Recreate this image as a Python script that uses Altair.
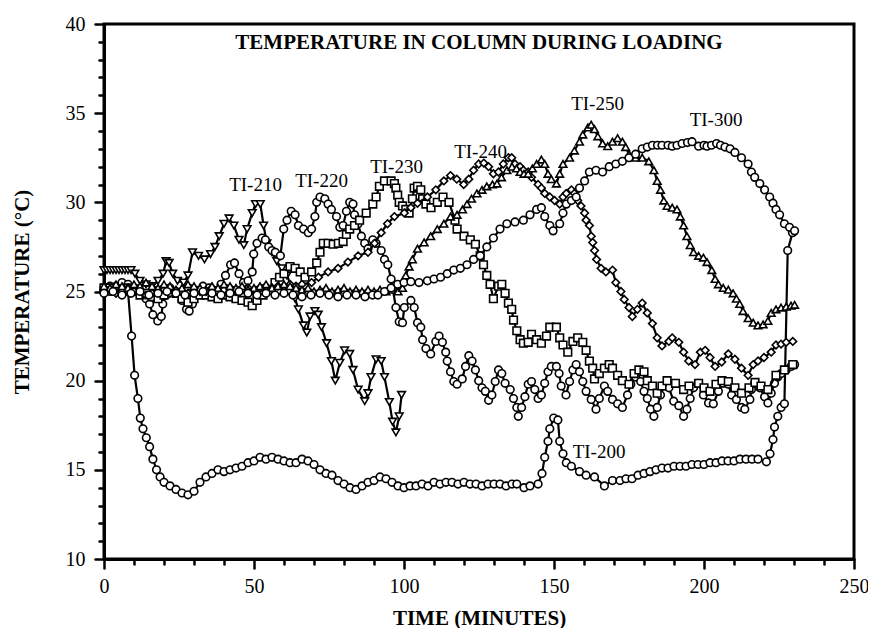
import altair as alt
import pandas as pd

series_names = ["TI-200", "TI-210", "TI-220", "TI-230", "TI-240", "TI-250", "TI-300"]
series_shapes = ["circle", "triangle-down", "circle", "square", "diamond", "triangle-up", "circle"]

ti200_t = [0, 2, 4, 6, 8, 9.2, 10.2, 11.3, 12.1, 13, 14.1, 15.2, 16.3, 17.5, 18.7, 20, 22, 24, 26, 28, 30, 32, 34, 36, 38, 40,
           42, 44, 46, 48, 50, 52, 54, 56, 58, 60, 62, 64, 66, 68, 70, 72, 74, 76, 78, 80, 82, 84, 86, 88, 90, 92, 94, 96, 98,
           100, 102, 104, 106, 108, 110, 112, 114, 116, 118, 120, 122, 124, 126, 128, 130, 132, 134, 136, 137.6, 140, 142,
           144.7, 146, 146.9, 148, 148.6, 149.9, 151.3, 151.9, 153, 154.1, 155.8, 158.5, 160.7, 163.5, 166.8, 169.5, 172,
           174, 176, 178, 180, 182, 184, 186, 188, 190, 192, 194, 196, 198, 200, 202, 204, 206, 208, 210, 212, 214, 216, 218,
           220.8, 222, 223, 223.5, 224.6, 225.7, 226.8, 227.9, 229.5]
ti200_v = [25.0, 25.3, 25.0, 25.2, 25.0, 22.5, 20.3, 19.0, 17.9, 17.3, 16.8, 16.3, 15.6, 15.0, 14.6, 14.3, 14.1, 13.9, 13.7,
           13.6, 13.8, 14.3, 14.6, 14.8, 15.0, 14.9, 15.0, 15.1, 15.2, 15.4, 15.5, 15.7, 15.6, 15.7, 15.6, 15.5, 15.4, 15.4,
           15.6, 15.5, 15.3, 15.0, 14.8, 14.7, 14.4, 14.2, 14.0, 13.9, 14.1, 14.3, 14.4, 14.6, 14.5, 14.3, 14.1, 14.0, 14.1,
           14.1, 14.2, 14.1, 14.3, 14.2, 14.3, 14.3, 14.2, 14.3, 14.2, 14.2, 14.1, 14.2, 14.2, 14.2, 14.1, 14.2, 14.2, 14.0,
           14.1, 14.2, 14.8, 15.7, 16.6, 17.3, 17.9, 17.8, 16.6, 15.9, 15.4, 15.2, 14.9, 14.7, 14.6, 14.1, 14.4, 14.4, 14.5,
           14.5, 14.7, 14.8, 14.9, 15.0, 15.1, 15.1, 15.2, 15.2, 15.2, 15.3, 15.3, 15.3, 15.4, 15.4, 15.5, 15.5, 15.5, 15.6,
           15.6, 15.6, 15.6, 15.45, 15.9, 16.7, 17.4, 18.0, 18.5, 18.7, 27.3, 28.3]

ti210_t = [0, 1, 2, 3, 4, 5, 6, 7, 8, 9, 10.3, 12, 14, 16, 18, 19.7, 20.7, 21.7, 22.9, 24.5, 26.5, 28, 29.5, 31.5, 33.5, 35.5,
           37, 38.4, 40, 41.7, 43.3, 45, 46.6, 47.7, 49.4, 50.5, 52.1, 53.2, 54.3, 56, 57.6, 59.3, 61, 62.6, 63.7, 64.8, 66.5,
           67.6, 68.7, 70.3, 71.4, 72.5, 74.2, 75.8, 77.1, 78.6, 80.2, 81.9, 83, 84.7, 86.9, 88, 89, 90.7, 92.4, 93.5, 95.1,
           96.2, 97.3, 98.4, 99.2]
ti210_v = [26.2, 26.2, 26.2, 26.2, 26.2, 26.2, 26.2, 26.2, 26.2, 26.2, 26.0, 25.6, 25.4, 25.3, 25.6, 26.0, 26.7, 26.6, 26.0,
           25.6, 25.5, 25.9, 27.2, 27.0, 26.8, 27.1, 27.5, 28.1, 28.8, 29.1, 28.7, 27.9, 27.6, 28.5, 29.4, 29.9, 29.9, 28.7,
           27.7, 27.2, 26.7, 26.3, 25.9, 25.2, 24.6, 24.0, 23.1, 22.7, 23.6, 23.9, 23.7, 23.0, 22.1, 21.1, 20.0, 21.0, 21.7,
           21.5, 20.6, 19.5, 18.85, 19.3, 20.2, 21.2, 21.1, 20.2, 18.8, 17.7, 17.1, 18.0, 19.2]

ti220_t = [0, 2, 4, 6, 8, 10, 12, 14, 15.2, 16.3, 17.9, 19.1, 19.6, 20.7, 22, 24, 26, 27.5, 28.4, 29.5, 31, 33, 35, 37, 39,
           40.5, 42.2, 43.5, 45, 46.5, 48, 49.4, 49.9, 51, 52.7, 53.8, 54.9, 56, 57.1, 58.8, 59.9, 61, 62.4, 63.7, 64.8, 66.5,
           68.1, 69.2, 70.3, 70.9, 72, 73.6, 74.7, 75.8, 77.5, 78.6, 79.7, 80.8, 81.9, 83, 83.5, 84.7, 85.8, 86.9, 88, 89.6,
           90.7, 92.4, 93.5, 94.6, 95.7, 96.2, 97.3, 98.4, 99.5, 100.1, 102.3, 103.4, 104.5, 105.6, 106.2, 107.3, 108.9,
           110.6, 111.7, 112.8, 113.9, 114.4, 115.5, 116.6, 117.7, 119.4, 120.5, 121.6, 122.7, 123.8, 124.9, 126, 127.1,
           128.2, 129.3, 130.4, 131.5, 132.6, 133.7, 135.4, 136.5, 137.6, 138.1, 139.2, 140.3, 141.4, 142.5, 143.6, 144.7,
           145.8, 146.9, 148, 149.1, 150.8, 151.7, 152.4, 154, 155.2, 156.3, 157.4, 158.5, 159.6, 160.7, 162.4, 164, 165.1,
           166.8, 167.9, 169.5, 171.2, 172.8, 174.5, 175.6, 177.2, 178.9, 180, 181.1, 182.2, 183.3, 184.4, 185.5, 186.6,
           188.3, 189.9, 191.6, 193.2, 194.3, 195.4, 196.5, 198.2, 199.8, 201.5, 203.1, 204.8, 206.4, 208.1, 209.2, 210.8,
           212.5, 213.6, 215.3, 215.8, 216.9, 218.6, 220.2, 221.3, 222.4, 223.5, 224.6, 225.7, 227.4, 229, 230.2]
ti220_v = [25.2, 25.0, 25.3, 25.5, 25.4, 25.2, 25.0, 24.6, 24.3, 23.7, 23.35, 23.6, 24.3, 24.8, 25.2, 25.0, 24.5, 24.0, 23.9,
           24.3, 24.9, 25.3, 25.2, 25.0, 25.4, 25.9, 26.5, 26.6, 26.0, 25.5, 25.6, 26.1, 27.1, 27.7, 28.0, 27.9, 27.5, 27.3,
           27.2, 27.0, 28.5, 29.0, 29.5, 29.3, 28.7, 28.5, 28.3, 28.5, 29.2, 30.0, 30.3, 30.2, 29.9, 29.6, 29.2, 28.6, 28.7,
           29.5, 30.0, 29.9, 29.3, 28.8, 28.1, 27.7, 27.4, 27.9, 27.7, 27.3, 26.8, 26.5, 25.7, 25.2, 24.1, 23.3, 23.25, 24.1,
           24.5, 24.1, 23.25, 23.0, 22.3, 21.8, 21.5, 22.2, 22.5, 22.15, 21.6, 21.1, 20.5, 19.95, 19.8, 20.1, 20.8, 21.4,
           21.1, 20.6, 20.0, 19.6, 19.4, 18.9, 19.2, 19.95, 20.6, 20.4, 19.85, 19.5, 19.0, 18.5, 18.0, 18.5, 19.1, 19.8,
           19.95, 19.5, 19.0, 19.2, 19.85, 20.5, 20.8, 20.8, 20.4, 19.7, 19.2, 19.95, 20.6, 20.9, 20.5, 19.95, 19.4, 18.95,
           18.4, 19.0, 19.7, 19.4, 18.95, 18.7, 18.5, 19.2, 19.8, 20.2, 19.95, 19.4, 19.0, 18.4, 18.0, 18.5, 19.2, 19.7,
           19.6, 18.85, 18.6, 18.0, 18.4, 19.0, 19.6, 19.85, 19.2, 18.75, 18.7, 19.4, 19.85, 19.8, 19.2, 18.95, 18.5, 18.4,
           18.95, 19.5, 19.85, 19.6, 19.1, 18.75, 19.3, 19.85, 20.2, 20.4, 20.6, 20.8, 20.9]

ti230_t = [0, 2, 4, 6, 8, 10, 12, 14, 16, 18, 20, 22, 24, 26, 28, 30, 32, 34, 36, 38, 40, 42, 44, 46, 48, 49.4, 51, 53, 55,
           57, 58.5, 60, 62, 63.7, 65.4, 67, 69.2, 70.9, 72, 73.1, 74.7, 76.4, 78.1, 79.7, 80.8, 81.9, 83.5, 85.2, 87.4, 89.6,
           90.7, 91.8, 93.5, 95.7, 96.8, 97.3, 97.9, 98.4, 99.5, 100.6, 101.7, 102.8, 103.4, 104.5, 105.6, 106.2, 107.3, 109,
           111.1, 113, 115, 117, 117.7, 120, 122.1, 123.8, 125.4, 126.5, 127.6, 128.7, 129.8, 131.5, 132.6, 133.7, 134.8,
           135.9, 136.5, 137.6, 138.7, 139.8, 141.4, 142.5, 144.2, 145.8, 147.5, 148.6, 150.8, 151.9, 153, 154.6, 156.3,
           157.9, 159.6, 160.7, 161.8, 162.9, 163.5, 165.1, 166.8, 168.4, 169.5, 171.2, 172.8, 175, 176.7, 178.3, 180, 181.1,
           182.8, 184.4, 186, 187.7, 190.5, 193.2, 195, 198.2, 200, 202, 204, 206, 208.1, 210.3, 212.5, 215, 217, 219, 221.3,
           224, 226.8, 229.6]
ti230_v = [25.2, 25.2, 25.0, 25.1, 25.2, 25.0, 24.8, 24.9, 24.7, 24.6, 24.8, 25.0, 24.9, 24.6, 24.4, 24.6, 24.8, 24.8, 24.7,
           24.6, 24.8, 24.7, 24.6, 24.5, 24.4, 24.2, 24.5, 24.8, 25.1, 25.5, 25.8, 26.0, 26.4, 26.3, 26.1, 25.8, 26.1, 26.6,
           27.2, 27.7, 27.7, 27.65, 27.7, 27.8, 28.2, 28.5, 28.7, 29.0, 29.4, 29.9, 30.3, 30.9, 31.2, 31.2, 31.05, 30.8,
           30.4, 30.0, 29.8, 29.6, 29.4, 30.2, 30.8, 30.9, 30.7, 30.2, 29.9, 29.7, 30.0, 30.3, 30.0, 29.0, 28.5, 28.1, 27.9,
           27.65, 27.0, 26.5, 25.9, 25.4, 24.6, 25.3, 25.4, 24.9, 24.35, 24.0, 23.4, 22.8, 22.3, 22.1, 22.15, 22.6, 22.3,
           22.1, 22.5, 23.0, 23.0, 22.4, 22.0, 21.6, 22.2, 22.4, 22.15, 21.7, 21.1, 20.7, 20.1, 20.4, 20.7, 20.9, 20.7, 20.3,
           20.0, 19.8, 20.4, 20.6, 20.5, 20.0, 19.7, 19.3, 19.7, 20.0, 19.85, 19.5, 19.7, 19.85, 19.6, 19.4, 19.8, 20.0,
           19.95, 19.6, 19.3, 19.6, 19.9, 19.7, 19.5, 20.3, 20.6, 20.9]

ti240_t = [0, 2, 4, 6, 8, 10, 12, 14, 16, 18, 20, 22, 24, 26, 28, 30, 32, 34, 36, 38, 40, 42, 44, 46, 48, 50, 52, 54, 56, 58,
           60, 62, 64, 66, 69.2, 71.5, 74.7, 78, 81.3, 84.7, 88, 90.2, 92.4, 94.5, 96.8, 100.1, 102.3, 104.5, 107.8, 110.6,
           113.3, 115.5, 117.6, 119.9, 121.6, 123.2, 124.9, 126.6, 128.2, 129.8, 131.5, 133.1, 134.8, 135.9, 137, 138.7,
           139.8, 141.4, 142.5, 144.7, 145.8, 146.9, 148.6, 150.2, 151.9, 153, 154.1, 155.8, 156.8, 157.9, 159, 160.2, 160.7,
           161.8, 162.4, 162.9, 163.5, 164.2, 165.7, 167.3, 169.5, 170.6, 172.3, 173.4, 175, 176.1, 177.8, 179.4, 181.1,
           182.8, 184.4, 186, 188.3, 189.4, 191.6, 193.2, 194.9, 197, 198.8, 200.4, 202, 203.7, 205.9, 208.1, 210.3, 212.5,
           214.7, 216.4, 218, 220, 222.4, 224, 225.7, 227.4, 229.6]
ti240_v = [25.0, 25.1, 24.9, 25.0, 25.2, 25.0, 25.1, 24.8, 24.9, 25.0, 25.1, 24.9, 25.0, 25.0, 24.9, 25.1, 25.0, 25.0, 25.2,
           25.0, 25.1, 25.2, 25.0, 25.1, 25.2, 25.1, 25.2, 25.3, 25.2, 25.3, 25.3, 25.4, 25.3, 25.4, 25.5, 25.8, 26.1, 26.3,
           26.65, 27.0, 27.2, 27.7, 28.3, 28.8, 29.2, 29.4, 29.7, 29.95, 30.3, 30.7, 31.2, 31.5, 31.3, 31.0, 31.3, 31.8,
           32.15, 32.2, 32.0, 31.6, 31.7, 32.15, 32.5, 32.5, 32.15, 32.0, 31.8, 31.7, 31.4, 31.0, 30.8, 30.5, 30.3, 30.1,
           29.9, 30.3, 30.5, 30.7, 30.5, 30.1, 29.8, 29.4, 29.0, 28.7, 28.1, 27.75, 27.3, 26.8, 26.3, 26.1, 26.2, 25.5, 25.0,
           24.55, 24.1, 23.6, 24.0, 24.35, 23.8, 23.2, 22.4, 21.95, 22.2, 22.4, 22.15, 21.6, 21.1, 20.9, 21.6, 21.7, 21.3,
           20.8, 21.05, 21.5, 21.2, 20.7, 20.3, 20.9, 21.1, 21.3, 21.6, 22.0, 22.05, 22.15, 22.2]

ti250_t = [0, 2, 4, 6, 8, 10, 12, 14, 16, 18, 20, 22, 24, 26, 28, 30, 32, 34, 36, 38, 40, 42, 44, 46, 48, 50, 52, 54, 56, 58,
           60, 62, 64, 66, 68, 70, 72, 74, 76, 78, 80, 82, 84, 86, 88, 90, 92, 94, 96, 98, 99.5, 100.6, 101.7, 102.8, 104.5,
           106.7, 108.9, 111.1, 113.3, 115.5, 117.7, 119.5, 121, 122.5, 124.3, 126, 127.6, 129.5, 131, 132.5, 134.3, 136,
           137.5, 138.7, 140, 141.4, 142.8, 144.2, 145.8, 146.9, 148, 149.1, 150.8, 151.9, 153, 155.2, 156.8, 158.5, 159.6,
           161.3, 162.4, 163.5, 164.6, 166.2, 167.9, 169.5, 171.2, 172.8, 173.9, 175, 177.2, 179.4, 181.6, 183.3, 184.4,
           185.5, 186.6, 187.7, 189.4, 191, 192.1, 193.2, 194.3, 195.4, 196.5, 198.2, 199.8, 201, 202.6, 203.7, 204.8, 206.4,
           208.1, 209.7, 210.8, 211.9, 213, 214.7, 216.4, 218, 219.7, 221.3, 222.4, 224, 225.7, 227.4, 229, 230.2]
ti250_v = [25.3, 25.2, 25.4, 25.3, 25.2, 25.4, 25.3, 25.5, 25.3, 25.2, 25.4, 25.3, 25.1, 25.2, 25.4, 25.3, 25.2, 25.1, 25.3,
           25.2, 25.4, 25.3, 25.2, 25.3, 25.1, 25.2, 25.3, 25.4, 25.2, 25.3, 25.4, 25.3, 25.2, 25.1, 25.2, 25.0, 25.1, 25.2,
           25.0, 25.1, 25.2, 25.0, 25.1, 25.0, 25.1, 25.0, 25.1, 25.0, 25.1, 25.0, 25.2, 25.9, 26.4, 26.8, 27.4, 27.75, 28.1,
           28.5, 28.8, 29.2, 29.3, 29.6, 29.9, 30.2, 30.5, 30.7, 30.9, 31.0, 31.05, 31.4, 31.8, 32.0, 31.9, 31.7, 31.6, 31.6,
           31.9, 32.15, 32.4, 32.15, 31.6, 31.3, 31.05, 31.6, 32.15, 32.5, 32.9, 33.4, 33.8, 34.2, 34.35, 34.1, 33.7, 33.3,
           33.15, 33.4, 33.6, 33.4, 33.1, 32.7, 32.5, 32.5, 32.3, 31.8, 31.2, 30.7, 30.1, 29.8, 29.7, 29.6, 29.2, 28.7, 28.1,
           27.6, 27.2, 27.0, 26.9, 26.65, 26.2, 25.7, 25.4, 25.2, 25.1, 24.9, 24.6, 24.3, 23.9, 23.5, 23.25, 23.1, 23.15,
           23.35, 23.8, 24.0, 24.1, 24.15, 24.2, 24.25]

ti300_t = [0, 3, 6, 9, 12, 15, 18, 21, 24, 27, 30, 33, 36, 39, 42, 45, 48, 51, 54, 57, 60, 63, 66, 69, 72, 75, 78, 81, 84, 87,
           89.5, 91.3, 93.5, 95.7, 97.9, 100, 102.3, 105, 107.8, 110, 112.2, 114.4, 116.6, 118.8, 121, 123.2, 125.4, 127.6,
           129.8, 132, 134.3, 137, 139.8, 142, 144.2, 145.8, 146.9, 148.6, 149.7, 151.9, 153, 154.1, 155.8, 157.4, 158.5,
           160.2, 161.8, 164, 166.2, 168.4, 170.6, 172.8, 175, 177.2, 179.4, 181.1, 182.8, 184.5, 186, 188, 189.4, 191, 192.7,
           194.5, 196, 198.2, 200, 201, 202.5, 204.2, 205.5, 207, 208.7, 210.3, 212.5, 214.7, 215.8, 216.9, 218.6, 220.2,
           221.9, 223, 224, 225.2, 226.8, 228.5, 230.2]
ti300_v = [24.9, 25.0, 24.8, 24.9, 25.0, 24.8, 24.9, 25.0, 24.9, 24.8, 24.9, 25.0, 24.9, 24.8, 24.9, 25.0, 24.9, 24.8, 24.9,
           24.8, 24.9, 24.8, 24.7, 24.8, 24.9, 24.8, 24.7, 24.8, 24.8, 24.7, 24.8, 24.8, 25.0, 25.2, 25.4, 25.5, 25.55,
           25.5, 25.6, 25.7, 25.8, 26.0, 26.2, 26.3, 26.5, 26.8, 27.0, 27.5, 28.0, 28.5, 28.8, 28.9, 29.0, 29.3, 29.6, 29.7,
           29.2, 28.7, 28.4, 28.8, 29.4, 29.9, 30.1, 30.3, 30.8, 31.2, 31.7, 31.8, 31.7, 32.0, 32.15, 32.3, 32.5, 32.7, 33.0,
           33.1, 33.2, 33.2, 33.2, 33.2, 33.15, 33.2, 33.3, 33.35, 33.4, 33.15, 33.2, 33.15, 33.2, 33.3, 33.2, 33.1, 33.0,
           32.8, 32.5, 32.15, 31.7, 31.4, 31.05, 30.7, 30.3, 29.95, 29.6, 29.3, 28.8, 28.6, 28.4]

label_text = ["TI-200", "TI-210", "TI-220", "TI-230", "TI-240", "TI-250", "TI-300"]
label_time = [165, 50.5, 72.5, 97.5, 125.5, 164.5, 204]
label_temp = [16.0, 31.0, 31.2, 32.0, 32.8, 35.5, 34.6]

chart_title = "TEMPERATURE IN COLUMN DURING LOADING"
title_time = [125]
title_temp = [38.95]

series_t = [ti200_t, ti210_t, ti220_t, ti230_t, ti240_t, ti250_t, ti300_t]
series_v = [ti200_v, ti210_v, ti220_v, ti230_v, ti240_v, ti250_v, ti300_v]

frames = []
for name, ts, vs in zip(series_names, series_t, series_v):
    frames.append(pd.DataFrame({"series": name, "time": ts, "temp": vs}))
data = pd.concat(frames, ignore_index=True)

FONT = "Liberation Serif"
PLOT_W = 750
PLOT_H = 535

x_enc = alt.X(
    "time:Q",
    scale=alt.Scale(domain=[0, 250], nice=False),
    axis=alt.Axis(
        values=list(range(0, 251, 10)),
        labelExpr="datum.value % 50 === 0 ? datum.label : ''",
        labelFlush=False,
        labelOverlap=False,
        tickSize={"condition": {"test": "datum.value % 50 === 0", "value": 9}, "value": 5},
        labelPadding=8,
        title="TIME (MINUTES)",
        titleBaseline="alphabetic",
        titleY=65,
    ),
)
y_enc = alt.Y(
    "temp:Q",
    scale=alt.Scale(domain=[10, 40], nice=False),
    axis=alt.Axis(
        values=list(range(10, 41)),
        labelExpr="datum.value % 5 === 0 ? datum.label : ''",
        labelFlush=False,
        labelOverlap=False,
        tickSize={"condition": {"test": "datum.value % 5 === 0", "value": 9}, "value": 5},
        labelPadding=10,
        title="TEMPERATURE (°C)",
        titleX=-72,
    ),
)

layers = []
for name, shp in zip(series_names, series_shapes):
    sub = alt.Chart(data).transform_filter(alt.datum.series == name)
    layers.append(
        sub.mark_line(color="black", strokeWidth=2.2).encode(x=x_enc, y=y_enc, order="time:Q")
    )
    layers.append(
        sub.mark_point(shape=shp, filled=True, fill="white", stroke="black", strokeWidth=1.6, size=58, opacity=1)
        .encode(x=x_enc, y=y_enc)
    )

labels_df = pd.DataFrame({"text": label_text, "time": label_time, "temp": label_temp})
labels = alt.Chart(labels_df).mark_text(font=FONT, fontSize=19, color="black").encode(
    x=x_enc, y=y_enc, text="text:N"
)

title_df = pd.DataFrame({"text": [chart_title], "time": title_time, "temp": title_temp})
title = alt.Chart(title_df).mark_text(font=FONT, fontSize=21, fontWeight="bold", color="black").encode(
    x=x_enc, y=y_enc, text="text:N"
)

chart = alt.layer(*layers, labels, title).properties(
    width=PLOT_W,
    height=PLOT_H,
    autosize=alt.AutoSizeParams(type="none"),
    padding={"left": 96, "top": 16, "right": 14, "bottom": 69},
    background="white",
).configure_view(
    stroke="black", strokeWidth=3
).configure_axis(
    grid=False,
    domainColor="black",
    domainWidth=3,
    tickColor="black",
    tickWidth=2.5,
    tickCap="round",
    labelFont=FONT,
    labelFontSize=20,
    labelColor="black",
    titleFont=FONT,
    titleFontSize=21,
    titleFontWeight="bold",
    titleColor="black",
)

chart.save("out.html", embed_options={"renderer": "svg", "actions": False})
